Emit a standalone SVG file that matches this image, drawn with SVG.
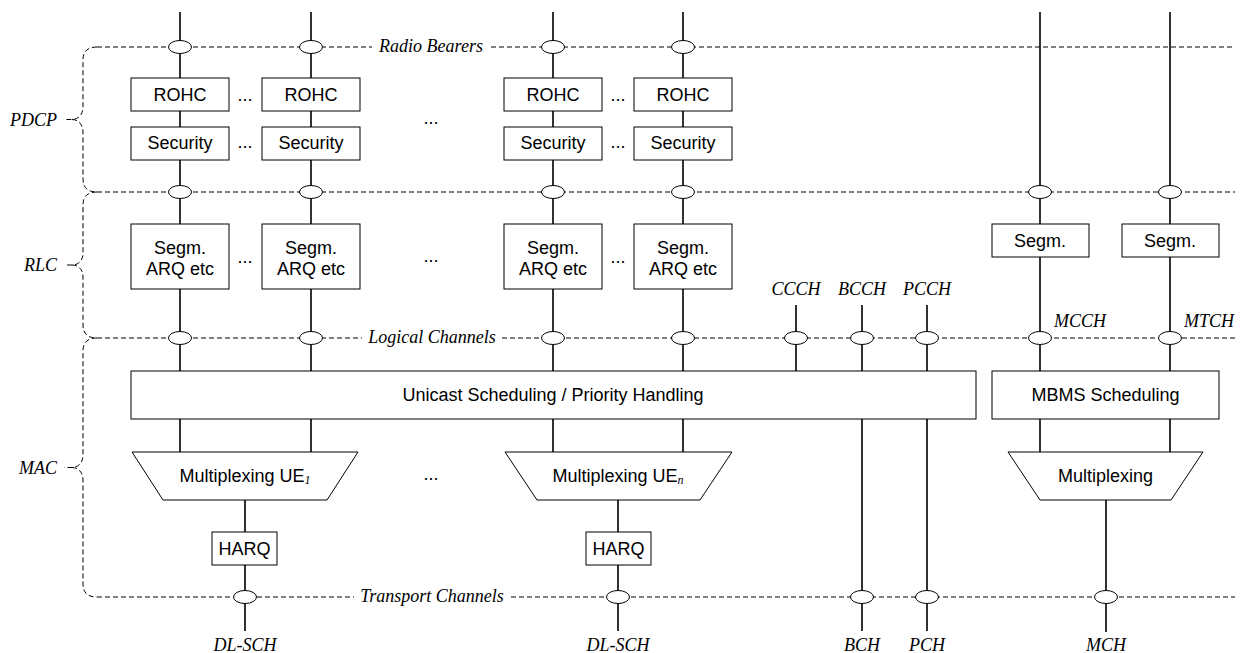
<svg xmlns="http://www.w3.org/2000/svg" width="1242" height="653" viewBox="0 0 1242 653">
<style>
.bg{fill:#fff}
.box{fill:#fff;stroke:#000;stroke-width:1}
.ln{stroke:#000;stroke-width:1.6;fill:none}
.dash{stroke:#000;stroke-width:1;stroke-dasharray:5 3;fill:none}
.ell{fill:#fff;stroke:#000;stroke-width:1}
.t{font-family:"Liberation Sans",Arial,sans-serif;font-size:18px;fill:#000;text-anchor:middle}
.i{font-family:"Liberation Serif","Times New Roman",serif;font-style:italic;font-size:18px;fill:#000;text-anchor:middle}
.il{font-family:"Liberation Serif","Times New Roman",serif;font-style:italic;font-size:18px;fill:#000}
.sub{font-family:"Liberation Serif","Times New Roman",serif;font-style:italic;font-size:12px}
</style>
<defs>
<ellipse id="sap" class="ell" cx="0" cy="0" rx="11.5" ry="6.5"/>
</defs>
<rect class="bg" x="0" y="0" width="1242" height="653"/>

<g id="connectors">
  <!-- layer boundaries -->
  <path class="dash" d="M97,47 H372 M491,47 H1235"/>
  <path class="dash" d="M97,192 H1235"/>
  <path class="dash" d="M97,338 H362 M502,338 H1235"/>
  <path class="dash" d="M97,597 H354 M511,597 H1235"/>
  <!-- braces -->
  <path class="dash" d="M97,47 C88,47 83,51 83,60 L83,107 C83,115 78,119.5 72,119.5 L64,119.5 M72,119.5 C78,119.5 83,124 83,132 L83,179 C83,188 88,192 97,192"/>
  <path class="dash" d="M97,192 C88,192 83,196 83,205 L83,253 C83,261 78,265 72,265 L64,265 M72,265 C78,265 83,269 83,277 L83,325 C83,334 88,338 97,338"/>
  <path class="dash" d="M97,338 C88,338 83,342 83,351 L83,455 C83,463 78,467.5 72,467.5 L64,467.5 M72,467.5 C78,467.5 83,472 83,480 L83,584 C83,593 88,597 97,597"/>
  <!-- vertical flows -->
  <path class="ln" d="M180,12 V371 M180,419 V452 M311,12 V371 M311,419 V452 M553,12 V371 M553,419 V452 M683,12 V371 M683,419 V452"/>
  <path class="ln" d="M245,500 V631 M618,500 V631"/>
  <path class="ln" d="M796,305 V371 M862,305 V371 M862,419 V631 M927,305 V371 M927,419 V631"/>
  <path class="ln" d="M1040,12 V371 M1040,419 V452 M1170,12 V371 M1170,419 V452 M1106,500 V632"/>
  <!-- SAPs -->
  <use href="#sap" x="180" y="47"/><use href="#sap" x="311" y="47"/><use href="#sap" x="553" y="47"/><use href="#sap" x="683" y="47"/>
  <use href="#sap" x="180" y="192"/><use href="#sap" x="311" y="192"/><use href="#sap" x="553" y="192"/><use href="#sap" x="683" y="192"/><use href="#sap" x="1040" y="192"/><use href="#sap" x="1170" y="192"/>
  <use href="#sap" x="180" y="338"/><use href="#sap" x="311" y="338"/><use href="#sap" x="553" y="338"/><use href="#sap" x="683" y="338"/><use href="#sap" x="796" y="338"/><use href="#sap" x="862" y="338"/><use href="#sap" x="927" y="338"/><use href="#sap" x="1040" y="338"/><use href="#sap" x="1170" y="338"/>
  <use href="#sap" x="245" y="597"/><use href="#sap" x="618" y="597"/><use href="#sap" x="862" y="597"/><use href="#sap" x="927" y="597"/><use href="#sap" x="1106" y="597"/>
</g>

<g id="labels">
  <text class="i" x="431" y="52">Radio Bearers</text>
  <text class="i" x="432" y="343">Logical Channels</text>
  <text class="i" x="432" y="602">Transport Channels</text>
  <text class="il" x="57" y="125.5" text-anchor="end">PDCP</text>
  <text class="il" x="57" y="271" text-anchor="end">RLC</text>
  <text class="il" x="57" y="473.5" text-anchor="end">MAC</text>
  <text class="i" x="796" y="295">CCCH</text>
  <text class="i" x="862" y="295">BCCH</text>
  <text class="i" x="927" y="295">PCCH</text>
  <text class="il" x="1054" y="327">MCCH</text>
  <text class="il" x="1184" y="327">MTCH</text>
  <text class="i" x="245" y="651">DL-SCH</text>
  <text class="i" x="618" y="651">DL-SCH</text>
  <text class="i" x="862" y="651">BCH</text>
  <text class="i" x="927" y="651">PCH</text>
  <text class="i" x="1106" y="651">MCH</text>
  <text class="t" x="245" y="101">...</text>
  <text class="t" x="245" y="148">...</text>
  <text class="t" x="618" y="101">...</text>
  <text class="t" x="618" y="148">...</text>
  <text class="t" x="431" y="124">...</text>
  <text class="t" x="245" y="263">...</text>
  <text class="t" x="618" y="263">...</text>
  <text class="t" x="431" y="262">...</text>
  <text class="t" x="431" y="480">...</text>
</g>

<g id="rohc1"><rect class="box" x="131" y="78" width="98" height="33"/><text class="t" x="180" y="101">ROHC</text></g>
<g id="rohc2"><rect class="box" x="262" y="78" width="98" height="33"/><text class="t" x="311" y="101">ROHC</text></g>
<g id="rohc3"><rect class="box" x="504" y="78" width="98" height="33"/><text class="t" x="553" y="101">ROHC</text></g>
<g id="rohc4"><rect class="box" x="634" y="78" width="98" height="33"/><text class="t" x="683" y="101">ROHC</text></g>

<g id="sec1"><rect class="box" x="131" y="127" width="98" height="33"/><text class="t" x="180" y="149">Security</text></g>
<g id="sec2"><rect class="box" x="262" y="127" width="98" height="33"/><text class="t" x="311" y="149">Security</text></g>
<g id="sec3"><rect class="box" x="504" y="127" width="98" height="33"/><text class="t" x="553" y="149">Security</text></g>
<g id="sec4"><rect class="box" x="634" y="127" width="98" height="33"/><text class="t" x="683" y="149">Security</text></g>

<g id="segm1"><rect class="box" x="131" y="224" width="98" height="65"/><text class="t" x="180" y="254">Segm.</text><text class="t" x="180" y="275">ARQ etc</text></g>
<g id="segm2"><rect class="box" x="262" y="224" width="98" height="65"/><text class="t" x="311" y="254">Segm.</text><text class="t" x="311" y="275">ARQ etc</text></g>
<g id="segm3"><rect class="box" x="504" y="224" width="98" height="65"/><text class="t" x="553" y="254">Segm.</text><text class="t" x="553" y="275">ARQ etc</text></g>
<g id="segm4"><rect class="box" x="634" y="224" width="98" height="65"/><text class="t" x="683" y="254">Segm.</text><text class="t" x="683" y="275">ARQ etc</text></g>

<g id="segm5"><rect class="box" x="992" y="224" width="97" height="33"/><text class="t" x="1040" y="247">Segm.</text></g>
<g id="segm6"><rect class="box" x="1122" y="224" width="97" height="33"/><text class="t" x="1170" y="247">Segm.</text></g>

<g id="unicast"><rect class="box" x="131" y="371" width="845" height="48"/><text class="t" x="553" y="401">Unicast Scheduling / Priority Handling</text></g>
<g id="mbms"><rect class="box" x="992" y="371" width="227" height="48"/><text class="t" x="1105.5" y="401">MBMS Scheduling</text></g>

<g id="mux1"><polygon class="box" points="132,452 358,452 327,500 163,500"/><text class="t" x="245" y="482">Multiplexing UE<tspan class="sub" dy="2">1</tspan></text></g>
<g id="muxn"><polygon class="box" points="505,452 732,452 700,500 537,500"/><text class="t" x="618" y="482">Multiplexing UE<tspan class="sub" dy="2">n</tspan></text></g>
<g id="muxm"><polygon class="box" points="1008,452 1203,452 1171,500 1040,500"/><text class="t" x="1105.5" y="482">Multiplexing</text></g>

<g id="harq1"><rect class="box" x="212" y="532" width="65" height="33"/><text class="t" x="244.5" y="555">HARQ</text></g>
<g id="harqn"><rect class="box" x="586" y="532" width="65" height="33"/><text class="t" x="618.5" y="555">HARQ</text></g>
</svg>
